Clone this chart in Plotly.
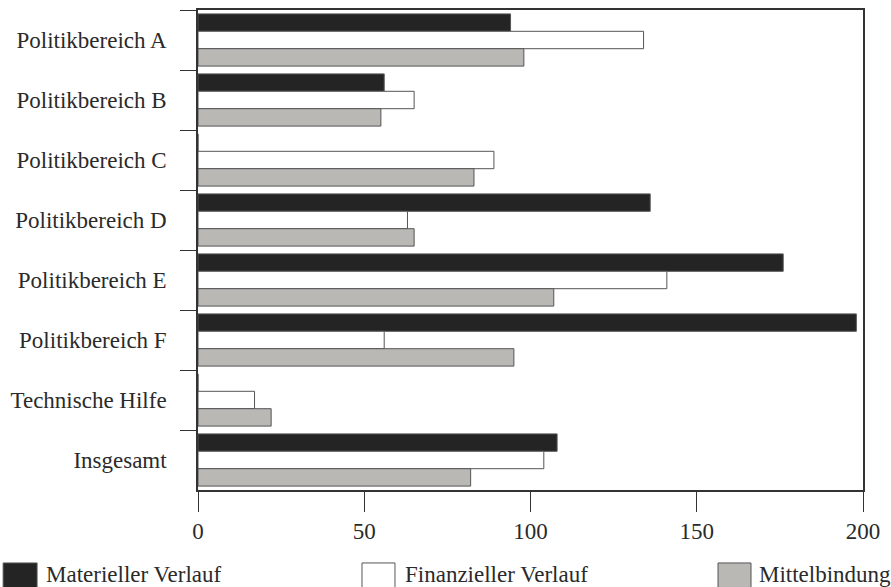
import plotly.graph_objects as go

categories = ["Politikbereich A", "Politikbereich B", "Politikbereich C", "Politikbereich D",
              "Politikbereich E", "Politikbereich F", "Technische Hilfe", "Insgesamt"]
materiell = [94, 56, 0, 136, 176, 198, 0, 108]
finanziell = [134, 65, 89, 63, 141, 56, 17, 104]
mittelbindung = [98, 55, 83, 65, 107, 95, 22, 82]
series_names = ["Materieller Verlauf", "Finanzieller Verlauf", "Mittelbindung"]
x_ticks = [0, 50, 100, 150, 200]

colors = ["#242424", "#ffffff", "#b9b8b5"]
FONT = "Liberation Serif, Times New Roman, serif"
TXT = "#2a2a2a"

fig = go.Figure()
for name, vals, col in zip(series_names, [materiell, finanziell, mittelbindung], colors):
    fig.add_trace(go.Bar(
        y=categories, x=vals, name=name, orientation="h",
        marker=dict(color=col, line=dict(color="#555555", width=1)),
        showlegend=False,
    ))

fig.update_layout(
    width=891, height=587,
    margin=dict(l=198, r=28, t=10, b=97),
    paper_bgcolor="white", plot_bgcolor="white",
    barmode="group", bargap=0.13, bargroupgap=0,
    font=dict(family=FONT, size=23, color=TXT),
)
fig.update_xaxes(
    range=[0, 200], tickvals=x_ticks, ticks="outside", ticklen=20, tickwidth=1,
    tickcolor="#333333", showline=True, linecolor="#333333", linewidth=1.5,
    mirror=True, showgrid=False, zeroline=False, automargin=False,
    tickfont=dict(family=FONT, size=23, color=TXT),
)
fig.update_yaxes(
    autorange="reversed", ticks="outside", tickson="boundaries", ticklen=16,
    tickwidth=1, tickcolor="#333333", showline=True, linecolor="#333333",
    linewidth=1.5, mirror=True, showgrid=False, ticklabelstandoff=25,
    automargin=False,
    tickfont=dict(family=FONT, size=23, color=TXT),
)

# manual legend
legend_pos = [(-0.293, -0.242, -0.2316), (0.2466, 0.2962, 0.3083), (0.782, 0.8316, 0.8406)]
for name, col, (x0, x1, xt) in zip(series_names, colors, legend_pos):
    fig.add_shape(type="rect", xref="paper", yref="paper", x0=x0, x1=x1, y0=-0.21, y1=-0.152,
                  fillcolor=col, line=dict(color="#555555", width=1))
    fig.add_annotation(xref="paper", yref="paper", x=xt, y=-0.177, text=name,
                       showarrow=False, xanchor="left", yanchor="middle",
                       font=dict(family=FONT, size=23, color=TXT))

fig.write_html("out.html", config={"displayModeBar": False},
               post_script="document.body.style.margin='0';")
